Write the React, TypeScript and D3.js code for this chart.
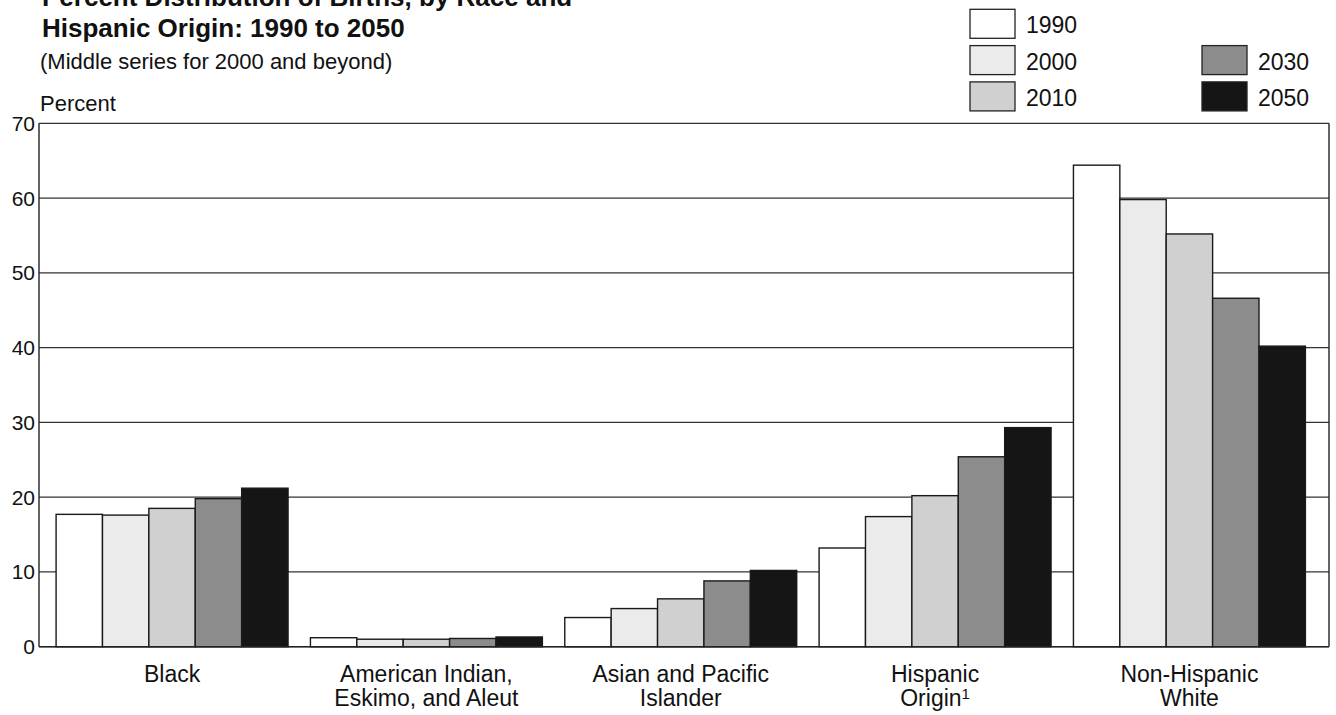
import React from "react";
import * as d3 from "d3";

const categories = ["Black", "American Indian", "Asian and Pacific Islander", "Hispanic Origin", "Non-Hispanic White"];
const categoryLines: string[][] = [
  ["Black"],
  ["American Indian,", "Eskimo, and Aleut"],
  ["Asian and Pacific", "Islander"],
  ["Hispanic", "Origin"],
  ["Non-Hispanic", "White"],
];
const years = ["1990", "2000", "2010", "2030", "2050"];
const v1990 = [17.7, 1.2, 3.9, 13.2, 64.4];
const v2000 = [17.6, 1.0, 5.1, 17.4, 59.8];
const v2010 = [18.5, 1.0, 6.4, 20.2, 55.2];
const v2030 = [19.8, 1.1, 8.8, 25.4, 46.6];
const v2050 = [21.2, 1.3, 10.2, 29.3, 40.2];
const seriesValues = [v1990, v2000, v2010, v2030, v2050];
const yTicks = [0, 10, 20, 30, 40, 50, 60, 70];
const titleLines = ["Percent Distribution of Births, by Race and", "Hispanic Origin: 1990 to 2050"];
const subtitle = "(Middle series for 2000 and beyond)";
const yAxisLabel = "Percent";

const fills = ["#ffffff", "#ebebeb", "#d0d0d0", "#8c8c8c", "#151515"];
const legendPos = [
  { col: 0, row: 0 },
  { col: 0, row: 1 },
  { col: 0, row: 2 },
  { col: 1, row: 1 },
  { col: 1, row: 2 },
];

export default function App() {
  const W = 1336, H = 715;
  const left = 39, right = 1329, top = 123.3, bottom = 646.7;
  const font = "'Liberation Sans', Arial, Helvetica, sans-serif";

  const x0 = d3.scaleBand<string>().domain(categories).range([left, right])
    .paddingInner(0.088).paddingOuter(0.08).align(0.42);
  const x1 = d3.scaleBand<string>().domain(years).range([0, x0.bandwidth()]).padding(0);
  const y = d3.scaleLinear().domain([0, 70]).range([bottom, top]);

  return (
    <svg width={W} height={H} style={{ position: "absolute", left: 0, top: 0, background: "#fff" }}
      fontFamily={font}>
      <rect x={0} y={0} width={W} height={H} fill="#fff" />
      {/* titles */}
      <text x={42} y={6} fontSize={26} fontWeight="bold" fill="#111">{titleLines[0]}</text>
      <text x={42} y={36.7} fontSize={26} fontWeight="bold" fill="#111">{titleLines[1]}</text>
      <text x={40} y={68.5} fontSize={22} fill="#111">{subtitle}</text>
      <text x={40} y={111} fontSize={22} fill="#111">{yAxisLabel}</text>

      {/* legend */}
      {years.map((yr, i) => {
        const p = legendPos[i];
        const bx = p.col === 0 ? 970 : 1202;
        const by = 9.3 + p.row * 36.3;
        return (
          <g key={yr}>
            <rect x={bx} y={by} width={45} height={29} fill={fills[i]} stroke="#222" strokeWidth={1.3} />
            <text x={bx + 56} y={by + 24} fontSize={23} fill="#111">{yr}</text>
          </g>
        );
      })}

      {/* gridlines */}
      {yTicks.map((t) => (
        <line key={"g" + t} x1={left} x2={right} y1={y(t)} y2={y(t)} stroke="#333" strokeWidth={1.2} />
      ))}
      {yTicks.map((t) => (
        <text key={"t" + t} x={35} y={y(t) + 7.5} fontSize={21} textAnchor="end" fill="#111">{t}</text>
      ))}
      <line x1={left} x2={left} y1={top} y2={bottom} stroke="#222" strokeWidth={1.4} />
      <line x1={right} x2={right} y1={top} y2={bottom} stroke="#222" strokeWidth={1.4} />

      {/* bars */}
      {categories.map((c, ci) => (
        <g key={c} transform={`translate(${x0(c)},0)`}>
          {years.map((yr, si) => {
            const v = seriesValues[si][ci];
            return (
              <rect key={yr} x={x1(yr)} y={y(v)} width={x1.bandwidth()} height={bottom - y(v)}
                fill={fills[si]} stroke="#1a1a1a" strokeWidth={1.4} />
            );
          })}
        </g>
      ))}
      <line x1={left} x2={right} y1={bottom} y2={bottom} stroke="#222" strokeWidth={1.4} />

      {/* category labels */}
      {categories.map((c, ci) => {
        const cx = (x0(c) as number) + x0.bandwidth() / 2;
        return (
          <text key={"l" + c} x={cx} y={682} fontSize={23} textAnchor="middle" fill="#111">
            {categoryLines[ci].map((ln, li) => (
              <tspan key={li} x={cx} dy={li === 0 ? 0 : 24}>
                {ln}
                {ci === 3 && li === 1 ? (
                  <tspan fontSize={15} dy={-7}>1</tspan>
                ) : null}
              </tspan>
            ))}
          </text>
        );
      })}
    </svg>
  );
}
